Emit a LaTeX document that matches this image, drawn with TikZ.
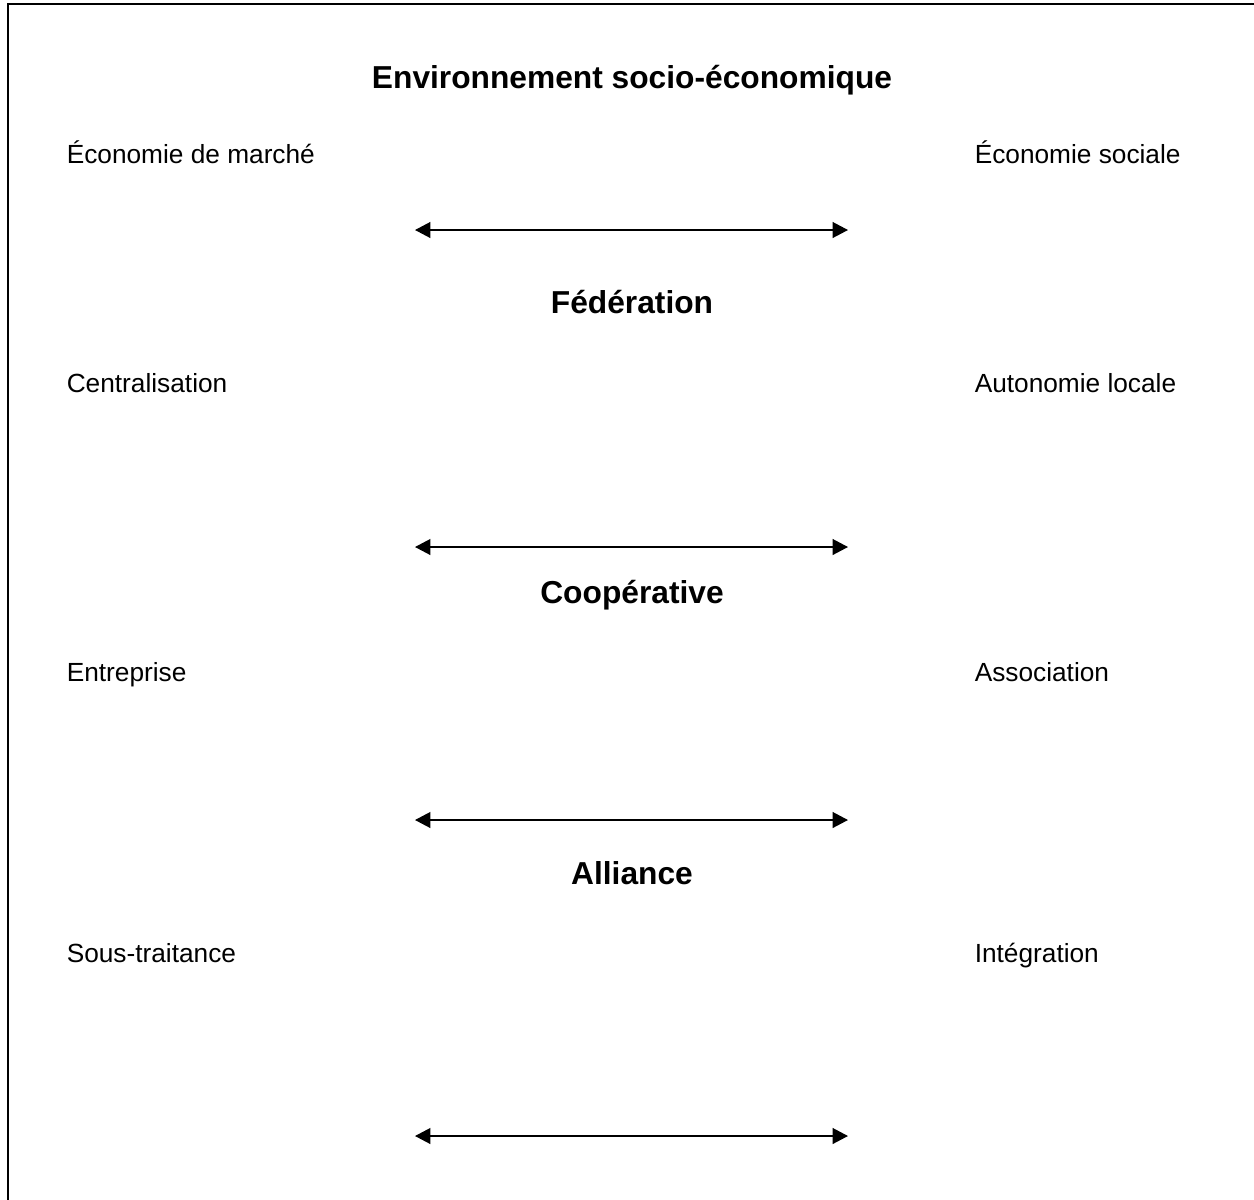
\documentclass[tikz,border=0pt]{standalone}
\usepackage{fontspec}
\setmainfont{Liberation Sans}
\usetikzlibrary{arrows.meta}

\begin{document}
\begin{tikzpicture}[x=0.457pt,y=-0.457pt,<->,>={Triangle[length=7pt,width=7.2pt]},line width=0.7pt,
    title node/.style={anchor=base,inner sep=0pt,font=\fontsize{14.5}{16}\selectfont\bfseries},
    side node/.style={anchor=base west,inner sep=0pt,font=\fontsize{12}{14}\selectfont}]

                \useasboundingbox (0,0) rectangle (1254,1199);
                \clip (0,0) rectangle (1254,1199);
                \draw[-,line width=1.2pt] (8,4) rectangle (1270,1215);

                \node[title node] (env) at (632,88) {Environnement socio-économique};
                \node[side node] (marche) at (66,163) {Économie de marché};
                \node[side node] (sociale) at (974,163) {Économie sociale};
                \coordinate (fedL) at (415,230);
                \coordinate (fedR) at (848,230);

                \node[title node] (fed) at (632,313) {Fédération};
                \node[side node] (central) at (66,392) {Centralisation};
                \node[side node] (autonomie) at (974,392) {Autonomie locale};
                \coordinate (coopL) at (415,547);
                \coordinate (coopR) at (848,547);

                \node[title node] (coop) at (632,603) {Coopérative};
                \node[side node] (entreprise) at (66,681) {Entreprise};
                \node[side node] (association) at (974,681) {Association};
                \coordinate (allL) at (415,820);
                \coordinate (allR) at (848,820);

                \node[title node] (alliance) at (632,884) {Alliance};
                \node[side node] (soustraitance) at (66,962) {Sous-traitance};
                \node[side node] (integration) at (974,962) {Intégration};
                \coordinate (botL) at (415,1136);
                \coordinate (botR) at (848,1136);

                \path
                    (fedL) edge (fedR)
                    (coopL) edge (coopR)
                    (allL) edge (allR)
                    (botL) edge (botR)
                ;
            \end{tikzpicture}
\end{document}
